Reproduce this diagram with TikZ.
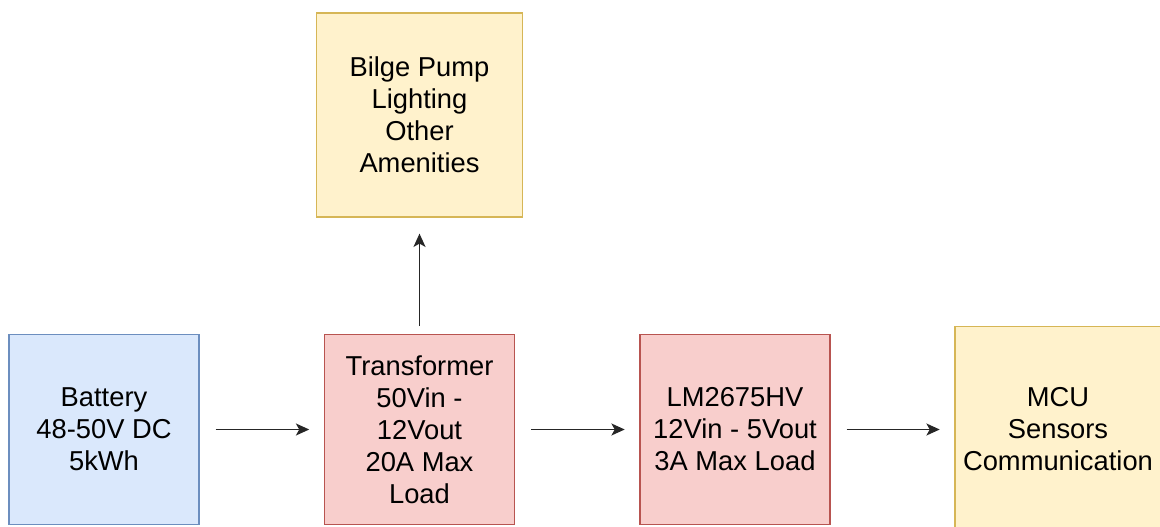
\documentclass[tikz,border=0pt]{standalone}
\usepackage{fontspec}
\setmainfont{Liberation Sans}
\definecolor{boxblue}{HTML}{DAE8FC}
\definecolor{lineblue}{HTML}{6C8EBF}
\definecolor{boxred}{HTML}{F8CECC}
\definecolor{linered}{HTML}{B85450}
\definecolor{boxyellow}{HTML}{FFF2CC}
\definecolor{lineyellow}{HTML}{D6B656}
\usetikzlibrary{arrows.meta,positioning}

\tikzset{
  block/.style={draw,line width=0.9pt,align=center,minimum width=142.5pt,minimum height=142pt,
    font=\fontsize{20.5}{24}\selectfont},
  flow/.style={-{Stealth[length=10pt,width=9pt,inset=2.5pt]},line width=1.3pt,draw=black!85,shorten <=12pt,shorten >=11pt},
}

\begin{document}
\begin{tikzpicture}[x=0.75pt,y=-0.75pt]
  \clip (0,0) rectangle (1160,527);
  \node[block,fill=boxblue,draw=lineblue] (bat) at (104,429.5) {Battery\\48-50V DC\\5kWh};
  \node[block,fill=boxred,draw=linered] (trans) at (419.5,429.5) {Transformer\\50Vin -\\12Vout\\20A Max\\Load};
  \node[block,fill=boxred,draw=linered] (lm) at (735,429.5) {LM2675HV\\12Vin - 5Vout\\3A Max Load};
  \node[block,fill=boxyellow,draw=lineyellow,minimum width=154.5pt,minimum height=154pt] (mcu) at (1058,429.5) {MCU\\Sensors\\Communication};
  \node[block,fill=boxyellow,draw=lineyellow,minimum width=154pt,minimum height=153pt] (amen) at (419.5,115) {Bilge Pump\\Lighting\\Other\\Amenities};
  \draw[flow] (bat) -- (trans);
  \draw[flow] (trans) -- (lm);
  \draw[flow] (lm) -- (mcu);
  \draw[flow,shorten <=6pt,shorten >=12pt] (trans) -- (amen);
\end{tikzpicture}
\end{document}
